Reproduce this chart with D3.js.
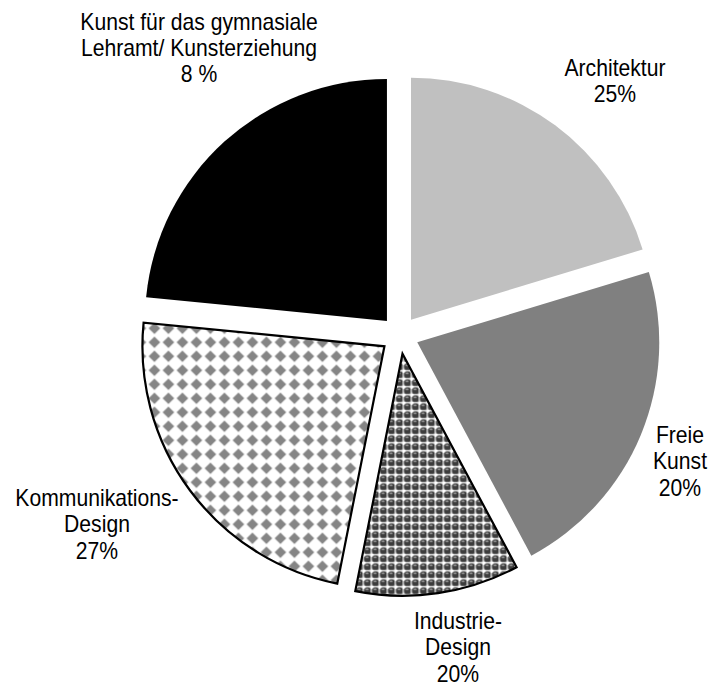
<!DOCTYPE html>
<html>
<head>
<meta charset="utf-8">
<script src="https://cdn.jsdelivr.net/npm/d3@7"></script>
<style>
  html, body { margin: 0; padding: 0; background: #fff; }
  svg { display: block; }
  text { font-family: "Liberation Sans", Arial, sans-serif; font-size: 23px; fill: #000; }
</style>
</head>
<body>
<svg id="chart" width="710" height="686"></svg>
<script>
// Data (clockwise from 12 o'clock)
const categories = ["Architektur", "Freie Kunst", "Industrie-Design", "Kommunikations-Design", "Kunst für das gymnasiale Lehramt/ Kunsterziehung"];
const values = [13, 14, 7, 15, 15];
const labelLines = [
  ["Architektur", "25%"],
  ["Freie", "Kunst", "20%"],
  ["Industrie-", "Design", "20%"],
  ["Kommunikations-", "Design", "27%"],
  ["Kunst für das gymnasiale", "Lehramt/ Kunsterziehung", "8 %"]
];
const fills = ["#c0c0c0", "#808080", "url(#spheres)", "url(#diamonds)", "#000000"];
const strokes = [null, null, "#000", "#000", null];

const svg = d3.select("#chart");
const defs = svg.append("defs");

// Diamond pattern
const pd = defs.append("pattern").attr("id", "diamonds")
  .attr("patternUnits", "userSpaceOnUse").attr("width", 14).attr("height", 14)
  .attr("x", 1).attr("y", 3);
pd.append("rect").attr("width", 14).attr("height", 14).attr("fill", "#fff");
pd.append("path").attr("d", "M7,1.2 L12.8,7 L7,12.8 L1.2,7 Z").attr("fill", "#858585");

// Sphere pattern
const ps = defs.append("pattern").attr("id", "spheres")
  .attr("patternUnits", "userSpaceOnUse").attr("width", 8).attr("height", 8)
  .attr("x", 0).attr("y", 0);
ps.append("rect").attr("width", 8).attr("height", 8).attr("fill", "#d8d8d8");
ps.append("rect").attr("x", 0).attr("y", 0).attr("width", 3).attr("height", 3).attr("fill", "#fff");
ps.append("circle").attr("cx", 5).attr("cy", 5).attr("r", 3.6).attr("fill", "#3c3c3c");
ps.append("ellipse").attr("cx", 4.6).attr("cy", 3.4).attr("rx", 1.6).attr("ry", 0.9).attr("fill", "#9a9a9a");

const cx = 399.7, cy = 335, r = 242, explode = 19;

const pie = d3.pie().sort(null).value(d => d);
const arcs = pie(values);
const arcGen = d3.arc().innerRadius(0).outerRadius(r);

const g = svg.append("g").attr("transform", `translate(${cx},${cy})`);
g.selectAll("path.slice").data(arcs).enter().append("path")
  .attr("class", "slice")
  .attr("transform", d => {
    const a = (d.startAngle + d.endAngle) / 2;
    return `translate(${explode * Math.sin(a)},${-explode * Math.cos(a)})`;
  })
  .attr("d", arcGen)
  .attr("fill", (d, i) => fills[i])
  .attr("stroke", (d, i) => strokes[i] || "none")
  .attr("stroke-width", 2.2)
  .attr("stroke-linejoin", "miter");

// Label positions (center x, first baseline)
const labelPos = [
  [615, 76],
  [680, 443],
  [458, 629],
  [97, 506],
  [199, 29.5]
];
const lineGap = 26.5;
const lab = svg.append("g");
labelLines.forEach((lines, i) => {
  const t = lab.append("text").attr("text-anchor", "middle")
    .attr("transform", `translate(${labelPos[i][0]},${labelPos[i][1]}) scale(0.92,1)`);
  lines.forEach((ln, j) => {
    t.append("tspan").attr("x", 0).attr("y", j * lineGap).text(ln);
  });
});
</script>
</body>
</html>
